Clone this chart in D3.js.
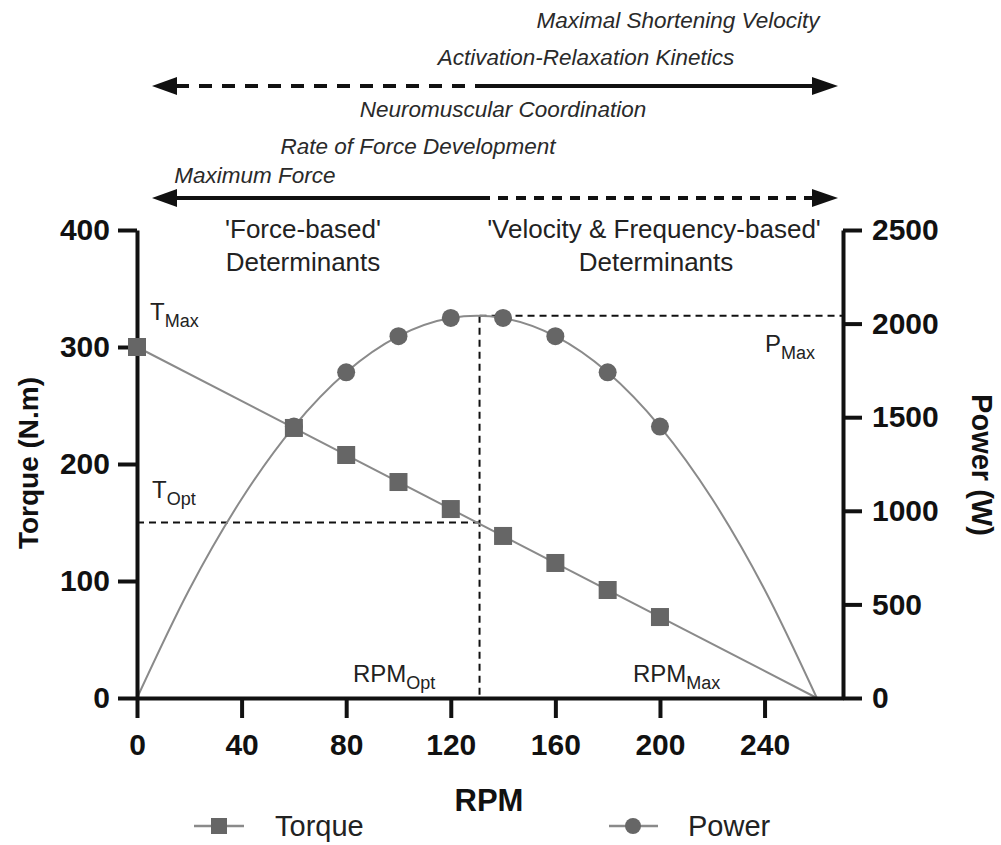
<!DOCTYPE html>
<html>
<head>
<meta charset="utf-8">
<script src="https://cdn.jsdelivr.net/npm/d3@7"></script>
<style>
  html, body { margin: 0; padding: 0; background: #fff; }
  svg { display: block; font-family: "Liberation Sans", Arial, Helvetica, sans-serif; }
</style>
</head>
<body>
<svg id="chart" width="1001" height="845"></svg>
<script>
// ---------- data ----------
const rpmTicks = [0, 40, 80, 120, 160, 200, 240];
const torqueTicks = [0, 100, 200, 300, 400];
const powerTicks = [0, 500, 1000, 1500, 2000, 2500];

const torqueRpm = [0, 60, 80, 100, 120, 140, 160, 180, 200];
const torqueVals = [300, 230.8, 207.7, 184.6, 161.5, 138.5, 115.4, 92.3, 69.2];

const powerRpm = [60, 80, 100, 120, 140, 160, 180, 200];
const powerVals = [1450, 1740, 1933, 2030, 2030, 1933, 1740, 1450];

// fitted lines
const torqueFitRpm = [0, 260];
const torqueFitVals = [300, 0];
const powerFitRpm = [0, 20, 40, 60, 80, 100, 120, 130, 140, 160, 180, 200, 220, 240, 260];
const powerFitVals = [0, 580, 1063, 1450, 1740, 1933, 2030, 2042, 2030, 1933, 1740, 1450, 1063, 580, 0];

// reference markers
const rpmOpt = 131;
const tOpt = 150;
const pMax = 2042;

const topLabels = [
  { text: "Maximal Shortening Velocity", x: 678, y: 28 },
  { text: "Activation-Relaxation Kinetics", x: 586, y: 65 },
  { text: "Neuromuscular Coordination", x: 503, y: 117 },
  { text: "Rate of Force Development", x: 418, y: 154 },
  { text: "Maximum Force", x: 255, y: 183 }
];

// ---------- chart ----------
const svg = d3.select("#chart");
const x = d3.scaleLinear().domain([0, 270]).range([137, 843]);
const yT = d3.scaleLinear().domain([0, 400]).range([698, 230]);
const yP = d3.scaleLinear().domain([0, 2500]).range([698, 230]);

const ink = "#111";
const markerFill = "#666666";
const lineCol = "#8a8a8a";

// top arrows
function arrow(y, leftDashed, dash) {
  const g = svg.append("g");
  const xl = 176, xm = 480, xr = 813;
  g.append("line").attr("x1", xl).attr("x2", xm).attr("y1", y).attr("y2", y)
    .attr("stroke", ink).attr("stroke-width", 4)
    .attr("stroke-dasharray", leftDashed ? dash : null);
  g.append("line").attr("x1", xm).attr("x2", xr).attr("y1", y).attr("y2", y)
    .attr("stroke", ink).attr("stroke-width", 4)
    .attr("stroke-dasharray", leftDashed ? null : dash);
  g.append("path").attr("d", `M152,${y}L177,${y - 9}L177,${y + 9}Z`).attr("fill", ink);
  g.append("path").attr("d", `M838,${y}L812,${y - 9}L812,${y + 9}Z`).attr("fill", ink);
}
arrow(86, true, "13,10");
arrow(198, false, "10,8");

svg.append("g").selectAll("text").data(topLabels).join("text")
  .attr("x", d => d.x).attr("y", d => d.y)
  .attr("text-anchor", "middle")
  .attr("font-style", "italic")
  .attr("font-size", 22.5)
  .attr("fill", "#2a2a2a")
  .text(d => d.text);

// region labels
const region = svg.append("g").attr("font-size", 26).attr("fill", "#222").attr("text-anchor", "middle");
region.append("text").attr("x", 303).attr("y", 238).text("'Force-based'");
region.append("text").attr("x", 303).attr("y", 271).text("Determinants");
region.append("text").attr("x", 654).attr("y", 238).text("'Velocity & Frequency-based'");
region.append("text").attr("x", 656).attr("y", 271).text("Determinants");

// reference dashed lines
const ref = svg.append("g").attr("stroke", ink).attr("stroke-width", 2).attr("stroke-dasharray", "7,5").attr("fill", "none");
ref.append("line").attr("x1", x(0)).attr("x2", x(rpmOpt)).attr("y1", yT(tOpt)).attr("y2", yT(tOpt));
ref.append("line").attr("x1", x(rpmOpt)).attr("x2", x(rpmOpt)).attr("y1", yP(pMax)).attr("y2", yT(0));
ref.append("line").attr("x1", x(rpmOpt)).attr("x2", x(270)).attr("y1", yP(pMax)).attr("y2", yP(pMax));

// fitted curves
const torqueLine = d3.line().x((d, i) => x(torqueFitRpm[i])).y(d => yT(d));
svg.append("path").attr("d", torqueLine(torqueFitVals))
  .attr("fill", "none").attr("stroke", lineCol).attr("stroke-width", 2);
const powerLine = d3.line().x((d, i) => x(powerFitRpm[i])).y(d => yP(d)).curve(d3.curveMonotoneX);
svg.append("path").attr("d", powerLine(powerFitVals))
  .attr("fill", "none").attr("stroke", lineCol).attr("stroke-width", 2);

// axes
function styleAxis(g) {
  g.select(".domain").attr("stroke", ink).attr("stroke-width", 4);
  g.selectAll(".tick line").attr("stroke", ink).attr("stroke-width", 4);
  g.selectAll(".tick text").attr("fill", ink).attr("font-size", 30).attr("font-weight", "bold")
    .attr("font-family", "'Liberation Sans', Arial, sans-serif");
}
const fmt = d3.format("d");
svg.append("g").attr("transform", `translate(0,${yT(0)})`)
  .call(d3.axisBottom(x).tickValues(rpmTicks).tickFormat(fmt).tickSize(20).tickSizeOuter(0).tickPadding(16))
  .call(styleAxis);
svg.append("g").attr("transform", `translate(${x(0)},0)`)
  .call(d3.axisLeft(yT).tickValues(torqueTicks).tickFormat(fmt).tickSize(19).tickSizeOuter(0).tickPadding(8))
  .call(styleAxis);
svg.append("g").attr("transform", `translate(${x(270)},0)`)
  .call(d3.axisRight(yP).tickValues(powerTicks).tickFormat(fmt).tickSize(19).tickSizeOuter(0).tickPadding(10))
  .call(styleAxis);

// markers
svg.append("g").selectAll("circle").data(powerVals).join("circle")
  .attr("cx", (d, i) => x(powerRpm[i])).attr("cy", d => yP(d)).attr("r", 9)
  .attr("fill", markerFill);
svg.append("g").selectAll("rect").data(torqueVals).join("rect")
  .attr("x", (d, i) => x(torqueRpm[i]) - 9).attr("y", d => yT(d) - 9)
  .attr("width", 18).attr("height", 18)
  .attr("fill", markerFill);

// axis titles
svg.append("text").attr("x", 489).attr("y", 811).attr("text-anchor", "middle")
  .attr("font-size", 31).attr("font-weight", "bold").attr("fill", ink).text("RPM");
svg.append("text").attr("transform", "translate(38,463) rotate(-90)").attr("text-anchor", "middle")
  .attr("font-size", 28).attr("font-weight", "bold").attr("fill", ink).text("Torque (N.m)");
svg.append("text").attr("transform", "translate(972,465) rotate(90)").attr("text-anchor", "middle")
  .attr("font-size", 29).attr("font-weight", "bold").attr("fill", ink).text("Power (W)");

// subscript labels
function subLabel(px, py, main, sub) {
  const t = svg.append("text").attr("x", px).attr("y", py).attr("font-size", 24).attr("fill", "#222");
  t.append("tspan").text(main);
  t.append("tspan").attr("dy", 7).attr("font-size", 18).text(sub);
}
subLabel(150, 320, "T", "Max");
subLabel(152, 498, "T", "Opt");
subLabel(765, 352, "P", "Max");
subLabel(353, 682, "RPM", "Opt");
subLabel(633, 682, "RPM", "Max");

// legend
const lg = svg.append("g");
lg.append("line").attr("x1", 194).attr("x2", 244).attr("y1", 826).attr("y2", 826).attr("stroke", lineCol).attr("stroke-width", 2.5);
lg.append("rect").attr("x", 211).attr("y", 818).attr("width", 16).attr("height", 16).attr("fill", markerFill);
lg.append("text").attr("x", 275).attr("y", 836).attr("font-size", 29).attr("fill", "#222").text("Torque");
lg.append("line").attr("x1", 609).attr("x2", 658).attr("y1", 826).attr("y2", 826).attr("stroke", lineCol).attr("stroke-width", 2.5);
lg.append("circle").attr("cx", 633).attr("cy", 826).attr("r", 8).attr("fill", markerFill);
lg.append("text").attr("x", 688).attr("y", 836).attr("font-size", 29).attr("fill", "#222").text("Power");
</script>
</body>
</html>
